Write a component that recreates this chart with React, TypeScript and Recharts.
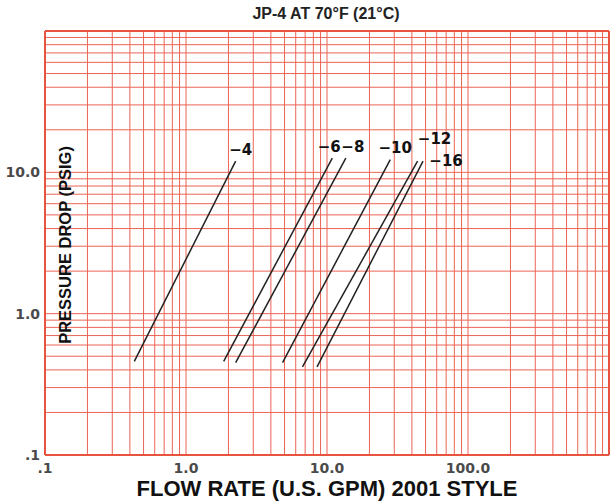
import React from 'react';
import { LineChart, Line, XAxis, YAxis, CartesianGrid, ReferenceLine } from 'recharts';

// Hose sizes (dash numbers)
const sizes = ['−4', '−6', '−8', '−10', '−12', '−16'];
// Flow rate (U.S. GPM) at the low and high ends of each line
const flowLow = [0.43, 1.85, 2.25, 4.84, 6.7, 8.5];
const flowHigh = [2.25, 10.9, 13.6, 28.1, 43.9, 48.0];
// Pressure drop (PSIG) at the low and high ends of each line
const dropLow = [0.46, 0.46, 0.45, 0.45, 0.42, 0.42];
const dropHigh = [12.0, 12.6, 12.6, 12.3, 12.0, 12.0];

// Grid / tick values
const xTicks = [
  0.1, 0.2, 0.3, 0.4, 0.5, 0.6, 0.7, 0.8, 0.9,
  1, 2, 3, 4, 5, 6, 7, 8, 9,
  10, 20, 30, 40, 50, 60, 70, 80, 90,
  100, 200, 300, 400, 500, 600, 700, 800, 900,
  1000,
];
const yTicks = [
  0.1, 0.2, 0.3, 0.4, 0.5, 0.6, 0.7, 0.8, 0.9,
  1, 2, 3, 4, 5, 6, 7, 8, 9,
  10, 20, 30, 40, 50, 60, 70, 80, 90,
  100,
];
const xTickLabels: Record<string, string> = { '0.1': '.1', '1': '1.0', '10': '10.0', '100': '100.0' };
const yTickLabels: Record<string, string> = { '0.1': '.1', '1': '1.0', '10': '10.0' };

// label offsets (style only)
const labelOffsets: Record<string, [number, number]> = {
  '−4': [5, -11],
  '−6': [-3, -11],
  '−8': [7, -11],
  '−10': [5, -12],
  '−12': [17, -22],
  '−16': [23, 0],
};

const seriesData = sizes.map((name, i) => ({
  name,
  points: [
    { x: flowLow[i], y: dropLow[i] },
    { x: flowHigh[i], y: dropHigh[i] },
  ],
}));

const GRID = '#ec6356';
const BORDER = '#e8533f';

export default function App() {
  return (
    <div style={{ position: 'absolute', left: 0, top: 0, width: 612, height: 502, background: '#fff' }}>
      <div
        style={{
          position: 'absolute',
          left: 201,
          top: 4,
          width: 250,
          textAlign: 'center',
          fontFamily: '"Liberation Sans", Arial, sans-serif',
          fontWeight: 'bold',
          fontSize: 16,
          lineHeight: '20px',
          color: '#222',
        }}
      >
        JP-4 AT 70°F (21°C)
      </div>
      <LineChart width={612} height={502} margin={{ top: 31, right: 3, left: 0, bottom: 0 }}>
        <CartesianGrid stroke={GRID} strokeWidth={1} />
        <XAxis
          type="number"
          dataKey="x"
          scale="log"
          domain={[0.1, 1000]}
          allowDataOverflow
          ticks={xTicks}
          interval={0}
          height={47}
          axisLine={false}
          tickLine={false}
          tickSize={0}
          tickMargin={8}
          tickFormatter={(v: number) => xTickLabels[String(v)] ?? ''}
          tick={{ fontFamily: '"DejaVu Sans", sans-serif', fontWeight: 'bold', fontSize: 14, fill: '#4a4a4a' }}
          label={{
            content: (p: any) => {
              const vb = p.viewBox || {};
              return (
                <text
                  x={vb.x + vb.width / 2}
                  y={496}
                  textAnchor="middle"
                  fontFamily='"Liberation Sans", Arial, sans-serif'
                  fontWeight="bold"
                  fontSize={22}
                  fill="#111"
                >
                  FLOW RATE (U.S. GPM) 2001 STYLE
                </text>
              );
            },
          }}
        />
        <YAxis
          type="number"
          dataKey="y"
          scale="log"
          domain={[0.1, 100]}
          allowDataOverflow
          ticks={yTicks}
          interval={0}
          width={45}
          axisLine={false}
          tickLine={false}
          tickSize={0}
          tickMargin={5}
          tickFormatter={(v: number) => yTickLabels[String(v)] ?? ''}
          tick={{ fontFamily: '"DejaVu Sans", sans-serif', fontWeight: 'bold', fontSize: 14, fill: '#4a4a4a' }}
          label={{
            content: (p: any) => {
              const vb = p.viewBox || {};
              const cx = vb.x + vb.width + 20;
              const cy = 245;
              return (
                <text
                  x={cx}
                  y={cy}
                  transform={`rotate(-90 ${cx} ${cy})`}
                  textAnchor="middle"
                  dominantBaseline="central"
                  fontFamily='"Liberation Sans", Arial, sans-serif'
                  fontWeight="bold"
                  fontSize={16.5}
                  fill="#111"
                >
                  PRESSURE DROP (PSIG)
                </text>
              );
            },
          }}
        />
        <ReferenceLine x={0.1} stroke={BORDER} strokeWidth={2} />
        <ReferenceLine x={1000} stroke={BORDER} strokeWidth={2} />
        <ReferenceLine y={0.1} stroke={BORDER} strokeWidth={2} />
        <ReferenceLine y={100} stroke={BORDER} strokeWidth={2} />
        {seriesData.map((s) => (
          <Line
            key={s.name}
            data={s.points}
            dataKey="y"
            name={s.name}
            type="linear"
            stroke="#222"
            strokeWidth={1.5}
            dot={false}
            activeDot={false}
            isAnimationActive={false}
            label={(p: any) => {
              if (p.index !== 1) return <g key={`${s.name}-l${p.index}`} />;
              const [dx, dy] = labelOffsets[s.name];
              return (
                <text
                  key={`${s.name}-lab`}
                  x={p.x + dx}
                  y={p.y + dy}
                  textAnchor="middle"
                  dominantBaseline="central"
                  fontFamily='"DejaVu Sans", sans-serif'
                  fontWeight="bold"
                  fontSize={15}
                  fill="#111"
                >
                  {s.name}
                </text>
              );
            }}
          />
        ))}
      </LineChart>
    </div>
  );
}
